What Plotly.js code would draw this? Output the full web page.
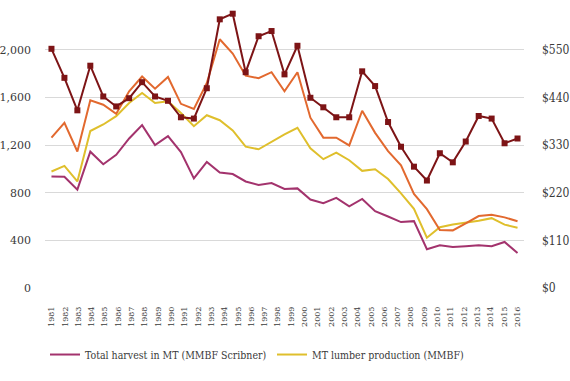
<!DOCTYPE html>
<html><head><meta charset="utf-8">
<script src="https://cdn.plot.ly/plotly-3.0.1.min.js"></script>
<style>html,body{margin:0;padding:0;overflow:hidden;background:#fff}#chart{width:570px;height:400px}</style>
</head><body><div id="chart"></div><script>
// data points (37 plotted periods)
const dataYears = [1980,1981,1982,1983,1984,1985,1986,1987,1988,1989,1990,1991,1992,1993,1994,1995,1996,1997,1998,1999,2000,2001,2002,2003,2004,2005,2006,2007,2008,2009,2010,2011,2012,2013,2014,2015,2016];
// axis tick labels (36)
const labelYears = ['1981','1982','1983','1984','1985','1986','1987','1988','1989','1990','1991','1992','1993','1994','1995','1996','1997','1998','1999','2000','2001','2002','2003','2004','2005','2006','2007','2008','2009','2010','2011','2012','2013','2014','2015','2016'];

const totalHarvest = [936,933,825,1144,1039,1117,1255,1367,1200,1275,1140,919,1058,969,956,894,864,881,831,836,742,711,756,686,747,644,600,553,561,325,358,344,350,358,350,386,294];
const lumberProduction = [978,1025,894,1317,1372,1442,1553,1636,1553,1567,1469,1358,1450,1408,1322,1186,1164,1228,1289,1344,1172,1081,1136,1072,983,997,914,794,664,422,510,533,548,564,586,532,506];
const lumberPrice = [347,381,315,433,423,402,454,488,460,487,425,413,473,574,541,490,484,498,454,498,393,347,347,329,409,358,316,283,217,182,134,133,149,166,169,163,154];
const stumpagePrice = [552,485,410,513,442,419,438,475,442,432,394,391,461,620,633,498,581,593,493,559,439,417,394,394,500,466,383,326,280,248,311,290,338,397,391,334,345];

const names = ['Total harvest in MT (MMBF Scribner)','MT lumber production (MMBF)','Lumber price ($/MBF)','Stumpage price ($/MBF)'];
const colors = ['#a3336d','#dfbf2c','#e2692f','#7d1416'];

const fc = 'DejaVu Serif Condensed';
const fs = 'DejaVu Serif';
const traces = [
  {x:dataYears,y:totalHarvest,name:names[0],type:'scatter',mode:'lines',line:{color:colors[0],width:2},yaxis:'y',legend:'legend'},
  {x:dataYears,y:lumberProduction,name:names[1],type:'scatter',mode:'lines',line:{color:colors[1],width:2},yaxis:'y',legend:'legend'},
  {x:dataYears,y:lumberPrice,name:names[2],type:'scatter',mode:'lines',line:{color:colors[2],width:2},yaxis:'y2',legend:'legend2'},
  {x:dataYears,y:stumpagePrice,name:names[3],type:'scatter',mode:'lines+markers',line:{color:colors[3],width:2},marker:{symbol:'square',size:6,color:colors[3]},yaxis:'y2',legend:'legend2'},
  {x:labelYears,y:labelYears.map(()=>null),xaxis:'x2',yaxis:'y',type:'scatter',mode:'lines',showlegend:false,hoverinfo:'skip'}
];

const layout = {
  width:570,height:400,
  margin:{l:45,r:46,t:1.5,b:111.7,autoexpand:false},
  paper_bgcolor:'#fff',plot_bgcolor:'#fff',
  font:{family:fs,color:'#3a3a3a'},
  showlegend:true,
  xaxis:{type:'linear',range:[dataYears[0]-0.5,dataYears[dataYears.length-1]+0.5],showticklabels:false,showgrid:false,zeroline:false,showline:false,ticks:''},
  xaxis2:{type:'category',overlaying:'x',anchor:'y',side:'bottom',categoryorder:'array',categoryarray:labelYears,range:[-0.5,labelYears.length-0.5],
          showgrid:false,zeroline:false,showline:false,ticks:'',tickangle:-90,tickfont:{family:fs,size:8,color:'#3a3a3a'},ticklabelstandoff:16},
  yaxis:{range:[0,2400],dtick:400,tick0:0,tickformat:',d',showgrid:true,gridcolor:'#d9d9d9',gridwidth:1,zeroline:false,showline:false,ticks:'',
         tickfont:{family:fs,size:11,color:'#3a3a3a'},ticklabelstandoff:13},
  yaxis2:{range:[0,660],dtick:110,tick0:0,tickprefix:'$',overlaying:'y',side:'right',showgrid:false,zeroline:false,showline:false,ticks:'',
          tickfont:{family:fc,size:12,color:'#3a3a3a'},ticklabelstandoff:17},
  legend:{orientation:'h',x:0,xanchor:'left',y:-0.2326,yanchor:'middle',font:{family:fc,size:10.5,color:'#3a3a3a'},
          entrywidth:182,entrywidthmode:'pixels',bgcolor:'rgba(0,0,0,0)',borderwidth:0,traceorder:'normal'},
  legend2:{orientation:'h',x:0,xanchor:'left',y:-0.348,yanchor:'middle',font:{family:fc,size:10.5,color:'#3a3a3a'},
          entrywidth:182,entrywidthmode:'pixels',bgcolor:'rgba(0,0,0,0)',borderwidth:0,traceorder:'normal'}
};

Plotly.newPlot('chart',traces,layout,{displayModeBar:false,staticPlot:true});
</script></body></html>
